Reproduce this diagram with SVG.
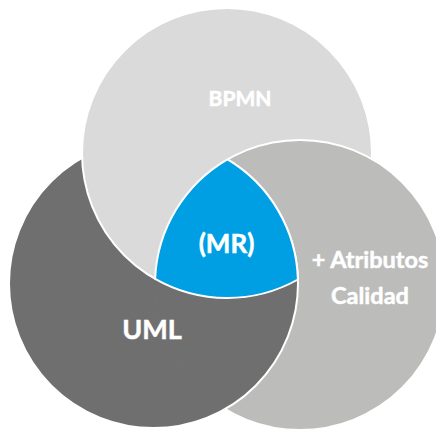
<svg xmlns="http://www.w3.org/2000/svg" width="436" height="431" viewBox="0 0 436 431">
  <style>
    .c { stroke: #FFFFFF; stroke-width: 2; }
    .s { fill: none; stroke: #FFFFFF; stroke-width: 2; }
    .t { font-family: Lato, "Open Sans", "Liberation Sans", sans-serif; font-weight: bold; fill: #FFFFFF; stroke: #FFFFFF; stroke-width: 0.5; text-anchor: middle; }
  </style>
  <defs>
    <clipPath id="clipR">
      <circle cx="300" cy="285" r="145.5"/>
    </clipPath>
    <clipPath id="clipOutL">
      <path clip-rule="evenodd" d="M -10 -10 H 446 V 441 H -10 Z M 298 283.5 A 144.5 144.5 0 1 0 9 283.5 A 144.5 144.5 0 1 0 298 283.5 Z"/>
    </clipPath>
  </defs>
  <rect width="436" height="431" fill="#FFFFFF"/>
  <g id="uml">
    <circle class="c" cx="153.5" cy="283.5" r="144.5" fill="#706F6F"/>
  </g>
  <g id="bpmn">
    <circle class="c" cx="227" cy="153" r="145" fill="#DADADA"/>
    <text class="t" x="240" y="106" font-size="21">BPMN</text>
  </g>
  <g id="calidad">
    <circle cx="300" cy="285" r="145" fill="#BCBCBB"/>
    <circle class="s" cx="300" cy="285" r="145" clip-path="url(#clipOutL)"/>
    <text class="t" x="370" y="268" font-size="23.5">+ Atributos</text>
    <text class="t" x="370" y="304" font-size="23.5">Calidad</text>
  </g>
  <g id="uml-over" clip-path="url(#clipR)">
    <circle class="c" cx="153.5" cy="283.5" r="144.5" fill="#706F6F"/>
  </g>
  <g id="uml-label">
    <text class="t" x="152" y="339" font-size="27">UML</text>
  </g>
  <g id="connectors"/>
  <g id="mr">
    <path class="c" fill="#009FE3" d="M 227.5 159.4 A 144.5 144.5 0 0 1 297.9 279.5 A 145 145 0 0 1 155.1 278.9 A 145 145 0 0 1 227.5 159.4 Z"/>
    <text class="t" x="226.5" y="253" font-size="26">(MR)</text>
  </g>
</svg>
